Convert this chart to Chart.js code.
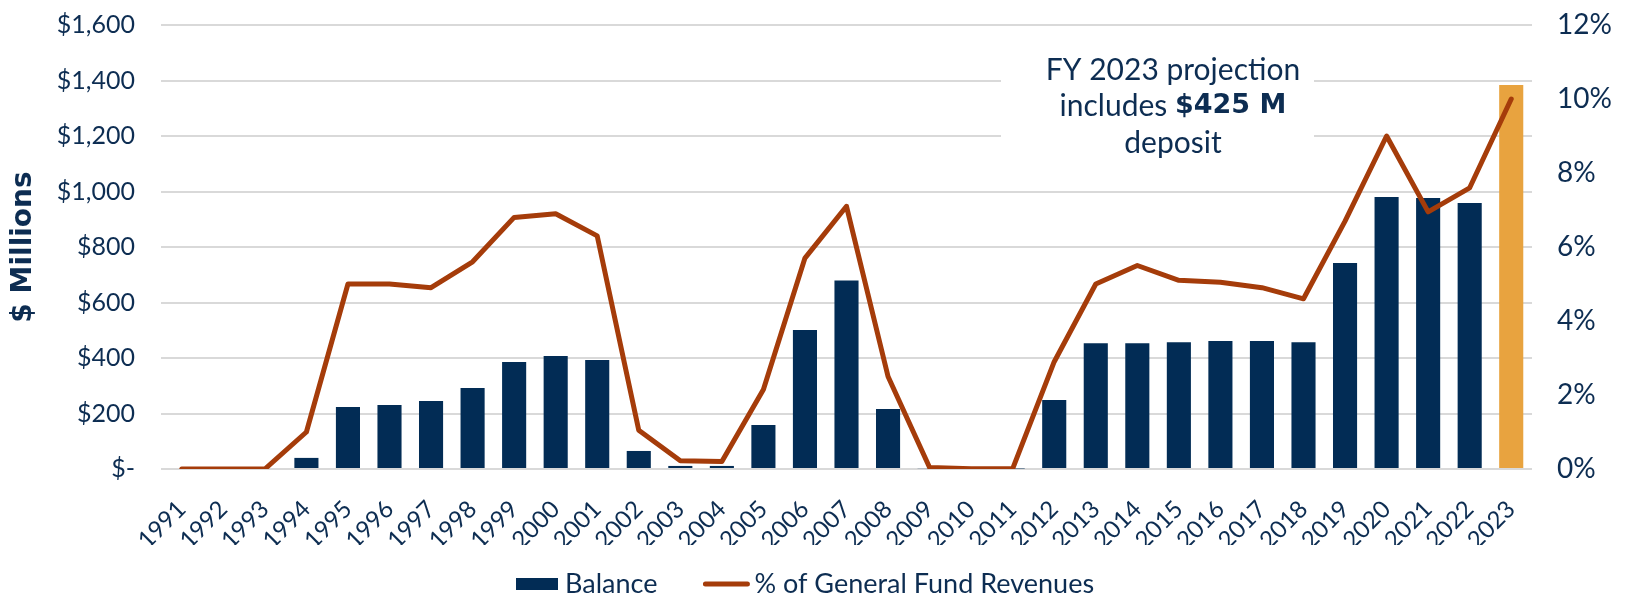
<!DOCTYPE html>
<html>
<head>
<meta charset="utf-8">
<script src="https://cdn.jsdelivr.net/npm/chart.js@4.4.1/dist/chart.umd.min.js"></script>
<style>
  html, body { margin: 0; padding: 0; background: #fff; }
  #wrap { width: 1628px; height: 596px; }
</style>
</head>
<body>
<div id="wrap"><canvas id="reserve" width="1628" height="596"></canvas></div>
<script>
// Rainy day fund balance and share of general fund revenues
const years = ['1991','1992','1993','1994','1995','1996','1997','1998','1999','2000','2001','2002',
  '2003','2004','2005','2006','2007','2008','2009','2010','2011','2012','2013','2014','2015',
  '2016','2017','2018','2019','2020','2021','2022','2023'];
const balance = [0, 0, 0, 40, 223, 231, 245, 292, 386, 407, 393, 65, 11, 11, 159, 501, 679, 216,
  3, 0, 2, 249, 453, 453, 457, 461, 461, 457, 742, 980, 977, 959, 1384];
const pctRevenues = [0, 0, 0, 1.0, 5.0, 5.0, 4.9, 5.6, 6.8, 6.9, 6.3, 1.05, 0.22, 0.2, 2.15, 5.7, 7.1,
  2.5, 0.04, 0.01, 0.01, 2.9, 5.0, 5.5, 5.1, 5.05, 4.9, 4.6, 6.7, 9.0, 6.95, 7.6, 10.0];
const leftTicks = [0, 200, 400, 600, 800, 1000, 1200, 1400, 1600];
const rightTicks = [0, 2, 4, 6, 8, 10, 12];
const noteLines = ['FY 2023 projection', 'includes ', 'deposit'];
const noteBold = '$425 M';

const NAVY = '#022c55';
const TEXT = '#0d2d52';
const RUST = '#a53c0a';
const GOLD = '#e8a33f';
const GRID = '#d9d9d9';
const CLEAR = 'rgba(0,0,0,0)';

const barColors = years.map(y => y === '2023' ? GOLD : NAVY);

const noteBox = {
  id: 'noteBox',
  beforeDatasetsDraw(chart) {
    const ctx = chart.ctx;
    ctx.save();
    ctx.fillStyle = '#fff';
    ctx.fillRect(1001, 44, 313, 118);
    ctx.restore();
  },
  afterDatasetsDraw(chart) {
    const ctx = chart.ctx;
    const cx = 1173;
    const reg = '30px Lato';
    const heavy = 'bold 27px "DejaVu Sans"';
    ctx.save();
    ctx.fillStyle = TEXT;
    ctx.textBaseline = 'middle';
    ctx.textAlign = 'left';
    ctx.font = reg;
    let w = ctx.measureText(noteLines[0]).width;
    ctx.fillText(noteLines[0], cx - w / 2, 70);
    // second line mixes regular and heavy text
    const wa = ctx.measureText(noteLines[1]).width;
    ctx.font = heavy;
    const wb = ctx.measureText(noteBold).width;
    const x = cx - (wa + wb) / 2;
    ctx.font = reg;
    ctx.fillText(noteLines[1], x, 106);
    ctx.font = heavy;
    ctx.fillText(noteBold, x + wa, 106);
    ctx.font = reg;
    w = ctx.measureText(noteLines[2]).width;
    ctx.fillText(noteLines[2], cx - w / 2, 143);
    ctx.restore();
  }
};

const bottomLegend = {
  id: 'bottomLegend',
  afterDraw(chart) {
    const ctx = chart.ctx;
    const ds = chart.data.datasets;
    const y = 584;
    ctx.save();
    ctx.font = '27px Lato';
    ctx.textBaseline = 'middle';
    const t0 = ctx.measureText(ds[0].label).width;
    let x = 516;
    ctx.fillStyle = NAVY;
    ctx.fillRect(x, y - 6, 42, 12);
    x += 49;
    ctx.fillStyle = TEXT;
    ctx.fillText(ds[0].label, x, y);
    x += t0 + 46;
    ctx.strokeStyle = RUST;
    ctx.lineWidth = 5;
    ctx.lineCap = 'round';
    ctx.beginPath();
    ctx.moveTo(x + 2, y);
    ctx.lineTo(x + 44, y);
    ctx.stroke();
    x += 51;
    ctx.fillText(ds[1].label, x, y);
    ctx.restore();
  }
};

new Chart(document.getElementById('reserve'), {
  data: {
    labels: years,
    datasets: [
      {
        type: 'bar',
        label: 'Balance',
        data: balance,
        backgroundColor: barColors,
        yAxisID: 'y',
        order: 2,
        categoryPercentage: 1,
        barPercentage: 0.58
      },
      {
        type: 'line',
        label: '% of General Fund Revenues',
        data: pctRevenues,
        borderColor: RUST,
        borderWidth: 5,
        pointRadius: 0,
        tension: 0,
        borderJoinStyle: 'round',
        borderCapStyle: 'round',
        yAxisID: 'y1',
        order: 1
      }
    ]
  },
  options: {
    responsive: false,
    animation: false,
    layout: { padding: { top: 25, bottom: 51, left: 0, right: 0 } },
    plugins: {
      legend: { display: false },
      tooltip: { enabled: false }
    },
    scales: {
      x: {
        grid: { display: false },
        border: { display: false },
        ticks: {
          color: TEXT,
          font: { family: 'Lato', size: 24 },
          maxRotation: 45,
          minRotation: 45,
          autoSkip: false,
          padding: 18
        },
        afterFit(scale) { scale.height = 76; }
      },
      y: {
        position: 'left',
        min: 0,
        max: 1600,
        afterBuildTicks(scale) { scale.ticks = leftTicks.map(v => ({ value: v })); },
        // invisible tick marks keep the label gap without padding the top
        grid: { color: GRID, lineWidth: 2, drawTicks: true, tickLength: 26, tickColor: CLEAR },
        border: { display: false },
        ticks: {
          color: TEXT,
          font: { family: 'Lato', size: 25 },
          padding: 0,
          callback: v => v === 0 ? '$-' : '$' + v.toLocaleString('en-US')
        },
        title: {
          display: true,
          text: '$ Millions',
          color: TEXT,
          font: { family: 'DejaVu Sans', size: 28, weight: 'bold' },
          padding: { top: 7, bottom: 0 }
        },
        afterFit(scale) { scale.width = 161; }
      },
      y1: {
        position: 'right',
        min: 0,
        max: 12,
        afterBuildTicks(scale) { scale.ticks = rightTicks.map(v => ({ value: v })); },
        grid: { display: true, drawOnChartArea: false, drawTicks: true, tickLength: 25, tickColor: CLEAR, color: CLEAR },
        border: { display: false },
        ticks: {
          color: TEXT,
          font: { family: 'Lato', size: 28 },
          padding: 0,
          callback: v => v + '%'
        },
        afterFit(scale) { scale.width = 96; }
      }
    }
  },
  plugins: [noteBox, bottomLegend]
});
</script>
</body>
</html>
